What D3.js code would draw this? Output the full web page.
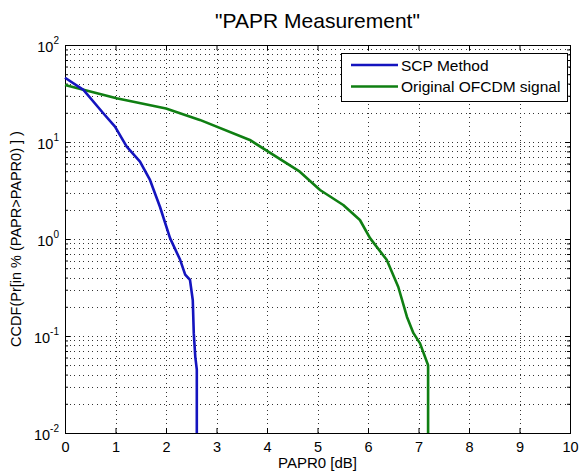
<!DOCTYPE html>
<html><head><meta charset="utf-8">
<script src="https://cdn.jsdelivr.net/npm/d3@7"></script>
<style>body{margin:0;background:#fff}svg{display:block}</style>
</head><body><svg id="c" width="579" height="474"></svg>
<script>
// ---- data ----
const seriesNames = ["SCP Method", "Original OFCDM signal"];
const scpX = [0, 0.365, 0.758, 0.99, 1.222, 1.485, 1.683, 1.88, 2.08, 2.28, 2.38, 2.475, 2.53, 2.55, 2.58, 2.61, 2.61];
const scpY = [46, 34.4, 19.8, 14.4, 8.95, 6.27, 4.06, 2.15, 1.02, 0.61, 0.43, 0.378, 0.235, 0.107, 0.061, 0.045, 0.01];
const ofdmX = [0, 1.02, 2.0, 2.67, 3.66, 4.65, 5.05, 5.51, 5.84, 6.04, 6.37, 6.6, 6.77, 6.9, 7.03, 7.19, 7.19];
const ofdmY = [38.7, 28.2, 22.2, 16.9, 10.5, 4.94, 3.2, 2.24, 1.57, 1.02, 0.61, 0.32, 0.158, 0.107, 0.084, 0.05, 0.01];
const xTicks = [0, 1, 2, 3, 4, 5, 6, 7, 8, 9, 10];
const yExponents = [-2, -1, 0, 1, 2];
const titleText = '"PAPR Measurement"';
const xLabel = "PAPR0 [dB]";
const yLabel = "CCDF(Pr[in % (PAPR>PAPR0) ] )";

(function () {
// ---- layout ----
const L = 65, R = 570, T = 45, B = 433;
const font = "Liberation Sans, Arial, sans-serif";
const svg = d3.select("#c");
const x = d3.scaleLinear().domain([0, 10]).range([L, R]);
const y = d3.scaleLog().domain([0.01, 100]).range([B, T]);

const minorVals = [];
yExponents.slice(0, -1).forEach(e => { for (let k = 2; k <= 9; k++) minorVals.push(k * Math.pow(10, e)); });
const majorVals = yExponents.map(e => Math.pow(10, e));

// grid
const grid = svg.append("g").attr("stroke", "#333").attr("stroke-width", 1).attr("stroke-dasharray", "1,3.5").attr("shape-rendering", "crispEdges");
xTicks.slice(1, -1).forEach(t => grid.append("line").attr("x1", Math.round(x(t)) + 0.5).attr("x2", Math.round(x(t)) + 0.5).attr("y1", T).attr("y2", B));
majorVals.concat(minorVals).filter(v => v > 0.01 && v < 100).forEach(v =>
  grid.append("line").attr("x1", L).attr("x2", R).attr("y1", Math.round(y(v)) + 0.5).attr("y2", Math.round(y(v)) + 0.5));

// axes (inward ticks)
const ax = svg.append("g").attr("font-family", font);
const axB = ax.append("g").attr("transform", `translate(0,${B})`)
  .call(d3.axisBottom(x).tickValues(xTicks).tickSizeInner(-5).tickSizeOuter(0).tickPadding(9).tickFormat(d3.format("d")));
axB.selectAll("text").attr("font-size", 14.5).attr("fill", "#000");
ax.append("g").attr("transform", `translate(0,${T})`)
  .call(d3.axisTop(x).tickValues(xTicks).tickSizeInner(-5).tickSizeOuter(0).tickFormat(""));
ax.append("g").attr("transform", `translate(${L},0)`)
  .call(d3.axisLeft(y).tickValues(majorVals).tickSizeInner(-5).tickSizeOuter(0).tickFormat(""));
ax.append("g").attr("transform", `translate(${R},0)`)
  .call(d3.axisRight(y).tickValues(majorVals).tickSizeInner(-5).tickSizeOuter(0).tickFormat(""));
ax.append("g").attr("transform", `translate(${L},0)`)
  .call(d3.axisLeft(y).tickValues(minorVals).tickSizeInner(-3).tickSizeOuter(0).tickFormat(""));
ax.append("g").attr("transform", `translate(${R},0)`)
  .call(d3.axisRight(y).tickValues(minorVals).tickSizeInner(-3).tickSizeOuter(0).tickFormat(""));
ax.selectAll(".domain").remove();
ax.selectAll("line").attr("stroke", "#000");

// box
svg.append("rect").attr("x", L + 0.5).attr("y", T + 0.5).attr("width", R - L).attr("height", B - T)
  .attr("fill", "none").attr("stroke", "#000").attr("stroke-width", 1);

// y tick labels with superscripts
yExponents.forEach(e => {
  const t = svg.append("text").attr("font-family", font).attr("font-size", 14.5).attr("fill", "#000")
    .attr("text-anchor", "end").attr("x", L - 6).attr("y", y(Math.pow(10, e)) + 7);
  t.append("tspan").text("10");
  t.append("tspan").attr("font-size", 10).attr("dy", -8).text(String(e));
});

// lines
const line = d3.line().x(d => x(d[0])).y(d => y(d[1]));
const series = [
  { name: seriesNames[0], xs: scpX, ys: scpY, color: "#1414bf" },
  { name: seriesNames[1], xs: ofdmX, ys: ofdmY, color: "#0f7f12" }
];
series.slice().reverse().forEach(s => {
  svg.append("path").datum(s.xs.map((v, i) => [v, s.ys[i]]))
    .attr("d", line).attr("fill", "none").attr("stroke", s.color).attr("stroke-width", 2.6)
    .attr("stroke-linejoin", "round");
});

// legend
const lg = svg.append("g");
lg.append("rect").attr("x", 341.5).attr("y", 53.5).attr("width", 226).attr("height", 48)
  .attr("fill", "#fff").attr("stroke", "#000");
series.forEach((s, i) => {
  const yy = 65 + i * 21.5;
  lg.append("line").attr("x1", 351).attr("x2", 398).attr("y1", yy).attr("y2", yy).attr("stroke", s.color).attr("stroke-width", 2.6);
  lg.append("text").attr("x", 401).attr("y", yy + 5.5).attr("font-family", font).attr("font-size", 15.5).attr("fill", "#000").text(s.name);
});

// titles
svg.append("text").attr("x", (L + R) / 2).attr("y", 28).attr("text-anchor", "middle")
  .attr("font-family", font).attr("font-size", 21).attr("fill", "#000").text(titleText);
svg.append("text").attr("x", (L + R) / 2).attr("y", 468).attr("text-anchor", "middle")
  .attr("font-family", font).attr("font-size", 15).attr("fill", "#000").text(xLabel);
svg.append("text").attr("transform", `translate(21,${(T + B) / 2}) rotate(-90)`).attr("text-anchor", "middle")
  .attr("font-family", font).attr("font-size", 14.5).attr("fill", "#000").text(yLabel);
})();
</script>
</body></html>
